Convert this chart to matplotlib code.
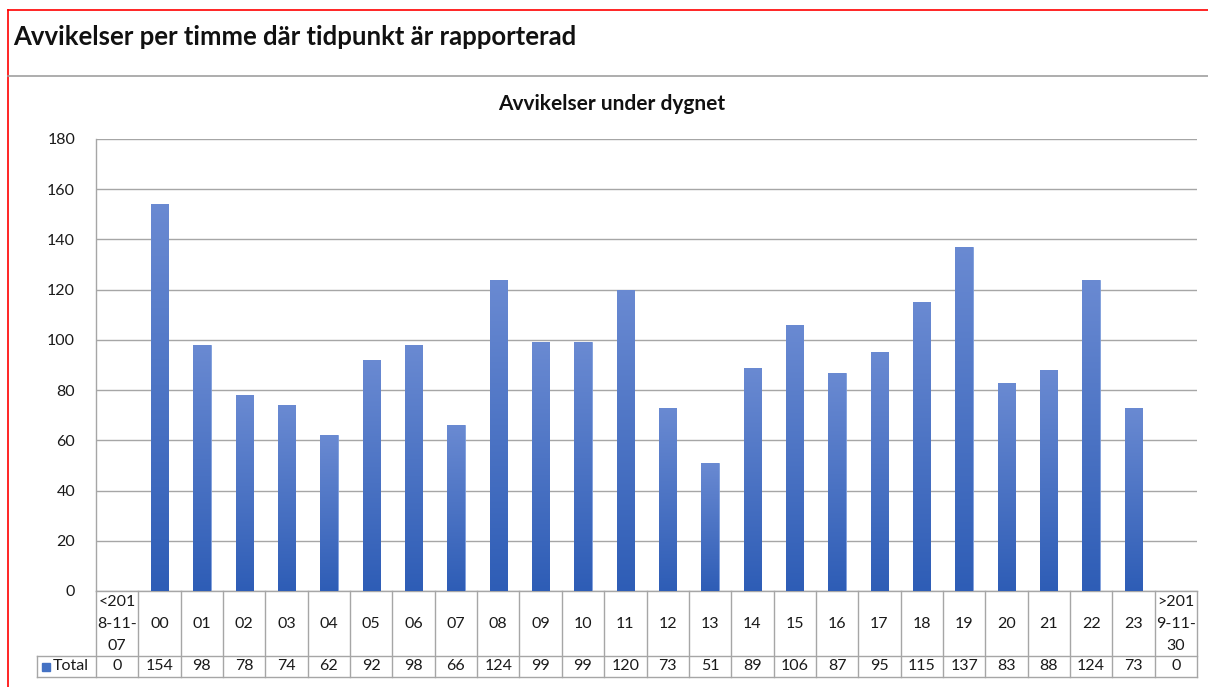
import matplotlib
matplotlib.use("Agg")
import matplotlib.pyplot as plt
import numpy as np
from matplotlib.transforms import blended_transform_factory
from matplotlib.lines import Line2D
from matplotlib.patches import Rectangle
from matplotlib.colors import LinearSegmentedColormap

categories = ["<201\n8-11-\n07", "00", "01", "02", "03", "04", "05", "06", "07", "08",
              "09", "10", "11", "12", "13", "14", "15", "16", "17", "18", "19", "20",
              "21", "22", "23", ">201\n9-11-\n30"]
values = [0, 154, 98, 78, 74, 62, 92, 98, 66, 124, 99, 99, 120, 73, 51, 89, 106, 87,
          95, 115, 137, 83, 88, 124, 73, 0]
series_name = "Total"
yticks = [0, 20, 40, 60, 80, 100, 120, 140, 160, 180]

plt.rcParams['font.family'] = ['Lato', 'DejaVu Sans']

W, H = 1208, 687
fig = plt.figure(figsize=(W / 100, H / 100), dpi=100)

def fx(px):
    return px / W

def fy(py):
    return 1 - py / H

# outer red frame & title
fig.add_artist(Line2D([fx(8), 1], [fy(10), fy(10)], color="#ff0000", lw=1.2))
fig.add_artist(Line2D([fx(8), fx(8)], [fy(10), 0], color="#ff0000", lw=1.2))
fig.add_artist(Line2D([fx(8), 1], [fy(76), fy(76)], color="#a0a0a0", lw=1.2))
fig.text(fx(13), fy(37), "Avvikelser per timme där tidpunkt är rapporterad",
         fontsize=18.5, fontweight="bold", va="center", ha="left", color="#111111")

ax = fig.add_axes([fx(96), fy(591), fx(1197) - fx(96), fy(139) - fy(591)])
x = np.arange(len(categories))
bars = ax.bar(x, values, width=0.41, color="#4a74c8", edgecolor="#7f9fdc", linewidth=0.6, zorder=2)

# gradient fill
grad = np.linspace(0, 1, 256).reshape(-1, 1)
cmap = LinearSegmentedColormap.from_list("g", ["#2e5db6", "#6a8ad2"])
for b in bars:
    h = b.get_height()
    if h <= 0:
        continue
    x0 = b.get_x()
    im = ax.imshow(grad, extent=[x0, x0 + b.get_width(), 0, h], origin="lower",
                   cmap=cmap, aspect="auto", zorder=3)
    im.set_clip_path(b)

ax.set_xlim(-0.5, len(categories) - 0.5)
ax.set_ylim(0, 180)
ax.set_yticks(yticks)
ax.tick_params(axis="y", length=0, labelsize=11.5, pad=15, labelcolor="#1a1a1a")
ax.set_xticks([])
ax.grid(axis="y", color="#a6a6a6", lw=1.0, zorder=0)
ax.set_axisbelow(True)
for s in ["top", "right"]:
    ax.spines[s].set_visible(False)
ax.spines["left"].set_color("#a6a6a6")
ax.spines["bottom"].set_color("#a6a6a6")
ax.spines["left"].set_linewidth(1.0)
ax.spines["bottom"].set_linewidth(1.0)
fig.text(fx(612), fy(104), "Avvikelser under dygnet", fontsize=15, fontweight="bold",
         ha="center", va="center", color="#111111")

# data table
tr = blended_transform_factory(ax.transData, fig.transFigure)
gc = "#a6a6a6"
y_top, y_mid, y_bot = fy(591), fy(656), fy(677)
for i in range(len(categories) + 1):
    xi = i - 0.5
    ax.add_line(Line2D([xi, xi], [y_top, y_bot], transform=tr, color=gc, lw=1.0, clip_on=False))
for yy in (y_mid, y_bot):
    fig.add_artist(Line2D([fx(37), fx(1197)], [yy, yy], color=gc, lw=1.0))
fig.add_artist(Line2D([fx(37), fx(37)], [y_mid, y_bot], color=gc, lw=1.0))

for i, (c, v) in enumerate(zip(categories, values)):
    ax.text(i, fy(624), c, transform=tr, ha="center", va="center",
            fontsize=11.5, linespacing=1.72, color="#1a1a1a", clip_on=False)
    ax.text(i, (y_mid + y_bot) / 2, str(v), transform=tr, ha="center", va="center",
            fontsize=11.5, color="#1a1a1a", clip_on=False)

fig.add_artist(Rectangle((fx(42), fy(671)), fx(8), fy(663) - fy(671), color="#4472c4"))
fig.text(fx(53), (y_mid + y_bot) / 2, series_name, fontsize=11.5, ha="left", va="center", color="#1a1a1a")

fig.savefig("out.png", dpi=100)
